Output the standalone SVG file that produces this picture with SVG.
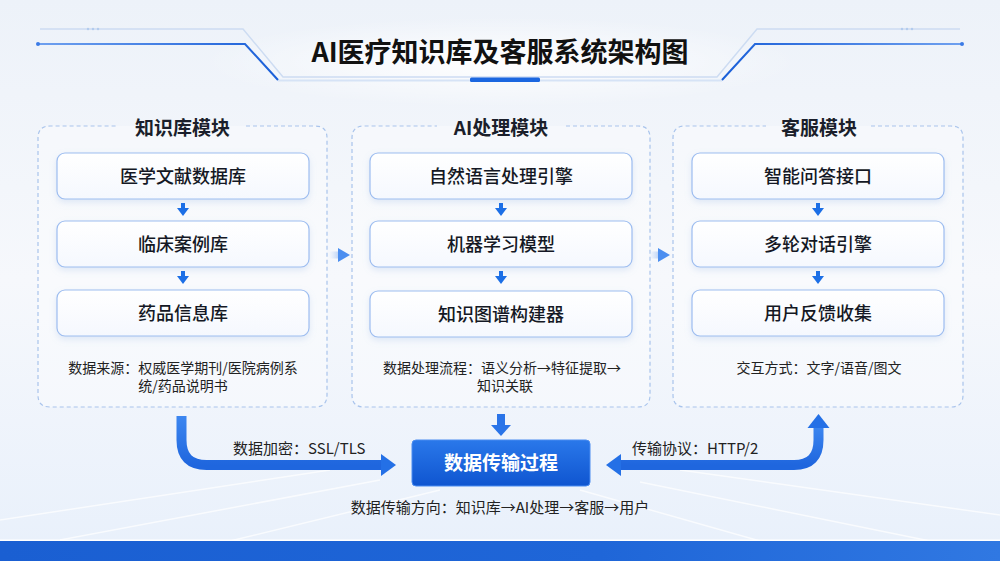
<svg xmlns="http://www.w3.org/2000/svg" width="1000" height="561" viewBox="0 0 1000 561">
<defs>
<style>
text{font-family:"Noto Sans CJK SC","Noto Sans",sans-serif;fill:#1b1f2b}
.title{font-size:27px;font-weight:700;fill:#111;text-anchor:middle}
.mtitle{font-size:19px;font-weight:700;text-anchor:middle}
.ntext{font-size:18px;font-weight:500;text-anchor:middle;fill:#141824}
.note{font-size:14px;text-anchor:middle;fill:#222}
.lbl{font-size:15px;fill:#222}
.module{fill:rgba(255,255,255,0.35);stroke:#a9c4ec;stroke-width:1.2;stroke-dasharray:4 3}
.inner{fill:url(#gInner);stroke:#9dbdf0;stroke-width:1.2;filter:url(#shadow)}
.sa{fill:#1c6fe6}
.big{fill:none;stroke:url(#gArrow);stroke-width:10;stroke-linejoin:round}
.bigh{fill:#2470e6}
</style>
<linearGradient id="gBg" x1="0" y1="0" x2="0" y2="1">
<stop offset="0" stop-color="#edf2f9"/>
<stop offset="0.5" stop-color="#f6f8fc"/>
<stop offset="1" stop-color="#e8f0fb"/>
</linearGradient>
<radialGradient id="gGlow" cx="0.5" cy="0.5" r="0.5">
<stop offset="0" stop-color="#ffffff" stop-opacity="0.95"/>
<stop offset="1" stop-color="#ffffff" stop-opacity="0"/>
</radialGradient>
<linearGradient id="gInner" x1="0" y1="0" x2="0" y2="1">
<stop offset="0" stop-color="#ffffff"/>
<stop offset="1" stop-color="#f5f8fe"/>
</linearGradient>
<linearGradient id="gBox" x1="0" y1="0" x2="0" y2="1">
<stop offset="0" stop-color="#2a78ea"/>
<stop offset="1" stop-color="#0f55d0"/>
</linearGradient>
<linearGradient id="gArrow" x1="0" y1="0" x2="0" y2="1">
<stop offset="0" stop-color="#3c86f0"/>
<stop offset="1" stop-color="#1f66de"/>
</linearGradient>
<linearGradient id="gBand" x1="0" y1="0" x2="1" y2="0">
<stop offset="0" stop-color="#1a5fd2"/>
<stop offset="0.6" stop-color="#1f66d8"/>
<stop offset="1" stop-color="#3078e2"/>
</linearGradient>
<linearGradient id="gBlueL" x1="0" y1="0" x2="1" y2="0">
<stop offset="0" stop-color="#6fa0ef"/>
<stop offset="1" stop-color="#1a5fd8"/>
</linearGradient>
<linearGradient id="gBlueR" x1="1" y1="0" x2="0" y2="0">
<stop offset="0" stop-color="#6fa0ef"/>
<stop offset="1" stop-color="#1a5fd8"/>
</linearGradient>
<linearGradient id="gTail" x1="0" y1="0" x2="1" y2="0">
<stop offset="0" stop-color="#cfe0fa" stop-opacity="0"/>
<stop offset="1" stop-color="#b9d1f6"/>
</linearGradient>
<filter id="shadow" x="-10%" y="-30%" width="120%" height="170%">
<feDropShadow dx="0" dy="3" stdDeviation="3" flood-color="#8fb0e0" flood-opacity="0.25"/>
</filter>
</defs>

<!-- background -->
<rect width="1000" height="561" fill="url(#gBg)"/>
<ellipse cx="500" cy="62" rx="300" ry="45" fill="url(#gGlow)"/>
<g stroke="#ffffff" stroke-opacity="0.7" stroke-width="1.5" fill="none">
<path d="M0,520 L330,470"/>
<path d="M60,540 L380,480"/>
<path d="M230,541 L440,490"/>
<path d="M1000,515 L680,470"/>
<path d="M930,541 L640,482"/>
<path d="M760,541 L580,490"/>
</g>
<rect x="0" y="539.5" width="1000" height="2" fill="#ffffff"/>
<rect x="0" y="541" width="1000" height="20" fill="url(#gBand)"/>

<!-- title decoration -->
<g id="title-deco" fill="none">
<polyline points="40,29 243,29 283,77 717,77 757,29 960,29" stroke="#cddcf2" stroke-width="1.5"/>
<line x1="278" y1="80.5" x2="722" y2="80.5" stroke="#d6e3f6" stroke-width="2"/>
<polyline points="38,44 245,44 278,80" stroke="url(#gBlueL)" stroke-width="2"/>
<polyline points="962,44 755,44 722,80" stroke="url(#gBlueR)" stroke-width="2"/>
<circle cx="38" cy="44" r="2" fill="#3b7be6"/>
<circle cx="962" cy="44" r="2" fill="#3b7be6"/>
<rect x="470" y="77.5" width="70" height="4.5" rx="1.5" fill="#1a66e0"/>
<g fill="#b3cbee">
<circle cx="88" cy="29" r="1.2"/><circle cx="93" cy="29" r="1.2"/><circle cx="98" cy="29" r="1.2"/>
<circle cx="902" cy="29" r="1.2"/><circle cx="907" cy="29" r="1.2"/><circle cx="912" cy="29" r="1.2"/>
</g>
</g>
<text class="title" x="500" y="62">AI医疗知识库及客服系统架构图</text>

<!-- module 1 -->
<g id="module-knowledge">
<path class="module" d="M246,126 H315 Q327,126 327,138 V395 Q327,407 315,407 H50 Q38,407 38,395 V138 Q38,126 50,126 H118"/>
<text class="mtitle" x="182.5" y="135">知识库模块</text>
</g>
<g id="node-medlit"><rect class="inner" x="57" y="153" width="252" height="46" rx="8"/><text class="ntext" x="183" y="183">医学文献数据库</text></g>
<g id="node-clinical"><rect class="inner" x="57" y="221" width="252" height="46" rx="8"/><text class="ntext" x="183" y="251">临床案例库</text></g>
<g id="node-drug"><rect class="inner" x="57" y="290" width="252" height="46" rx="8"/><text class="ntext" x="183" y="320">药品信息库</text></g>
<g id="note-knowledge">
<text class="note" x="183" y="373">数据来源：权威医学期刊/医院病例系</text>
<text class="note" x="183" y="391">统/药品说明书</text>
</g>

<!-- module 2 -->
<g id="module-ai">
<path class="module" d="M566,126 H638 Q650,126 650,138 V395 Q650,407 638,407 H364 Q352,407 352,395 V138 Q352,126 364,126 H437"/>
<text class="mtitle" x="501" y="135">AI处理模块</text>
</g>
<g id="node-nlp"><rect class="inner" x="370" y="153" width="262" height="46" rx="8"/><text class="ntext" x="501" y="183">自然语言处理引擎</text></g>
<g id="node-ml"><rect class="inner" x="370" y="221" width="262" height="46" rx="8"/><text class="ntext" x="501" y="251">机器学习模型</text></g>
<g id="node-kg"><rect class="inner" x="370" y="291" width="262" height="46" rx="8"/><text class="ntext" x="501" y="321">知识图谱构建器</text></g>
<g id="note-ai">
<text class="note" x="502" y="373">数据处理流程：语义分析→特征提取→</text>
<text class="note" x="505" y="391">知识关联</text>
</g>

<!-- module 3 -->
<g id="module-service">
<path class="module" d="M871,126 H951 Q963,126 963,138 V395 Q963,407 951,407 H685 Q673,407 673,395 V138 Q673,126 685,126 H766"/>
<text class="mtitle" x="819" y="135">客服模块</text>
</g>
<g id="node-qa"><rect class="inner" x="692" y="153" width="252" height="46" rx="8"/><text class="ntext" x="818" y="183">智能问答接口</text></g>
<g id="node-dialog"><rect class="inner" x="692" y="221" width="252" height="46" rx="8"/><text class="ntext" x="818" y="251">多轮对话引擎</text></g>
<g id="node-feedback"><rect class="inner" x="692" y="290" width="252" height="46" rx="8"/><text class="ntext" x="818" y="320">用户反馈收集</text></g>
<g id="note-service">
<text class="note" x="819" y="373">交互方式：文字/语音/图文</text>
</g>

<!-- central box -->
<g id="node-transfer">
<rect x="412" y="440" width="178" height="46" rx="4" fill="url(#gBox)" stroke="#4a8cf0" stroke-width="1"/>
<text x="501" y="470" style="font-size:19px;font-weight:700;fill:#ffffff;text-anchor:middle">数据传输过程</text>
</g>

<!-- connectors -->
<g id="connectors">
<rect class="sa" x="181" y="203" width="4" height="6"/><polygon class="sa" points="177,208 189,208 183,216"/>
<rect class="sa" x="181" y="271" width="4" height="6"/><polygon class="sa" points="177,276 189,276 183,284"/>
<rect class="sa" x="499" y="203" width="4" height="6"/><polygon class="sa" points="495,208 507,208 501,216"/>
<rect class="sa" x="499" y="271" width="4" height="6"/><polygon class="sa" points="495,276 507,276 501,284"/>
<rect class="sa" x="816" y="203" width="4" height="6"/><polygon class="sa" points="812,208 824,208 818,216"/>
<rect class="sa" x="816" y="271" width="4" height="6"/><polygon class="sa" points="812,276 824,276 818,284"/>
<rect x="329" y="251.5" width="10" height="7" fill="url(#gTail)"/>
<polygon points="338,248 350,255 338,262" fill="#4b8ef0"/>
<rect x="649" y="251.5" width="10" height="7" fill="url(#gTail)"/>
<polygon points="658,248 670,255 658,262" fill="#4b8ef0"/>
<rect x="497" y="414" width="8" height="12" fill="#2a74e8"/>
<polygon points="491,425 511,425 501,436" fill="#2a74e8"/>
<path class="big" d="M181.5,416 V440 Q181.5,465 206.5,465 H384"/>
<polygon class="bigh" points="381,454 396,465 381,476"/>
<path class="big" d="M618,465 H794 Q818.5,465 818.5,440 V426"/>
<polygon class="bigh" points="621,454 606,465 621,476"/>
<polygon class="bigh" points="807.5,428 818.5,414 829.5,428"/>
</g>

<text class="lbl" x="233" y="454">数据加密：SSL/TLS</text>
<text class="lbl" x="632" y="454">传输协议：HTTP/2</text>
<text class="lbl" x="500" y="513" style="text-anchor:middle">数据传输方向：知识库→AI处理→客服→用户</text>
</svg>
